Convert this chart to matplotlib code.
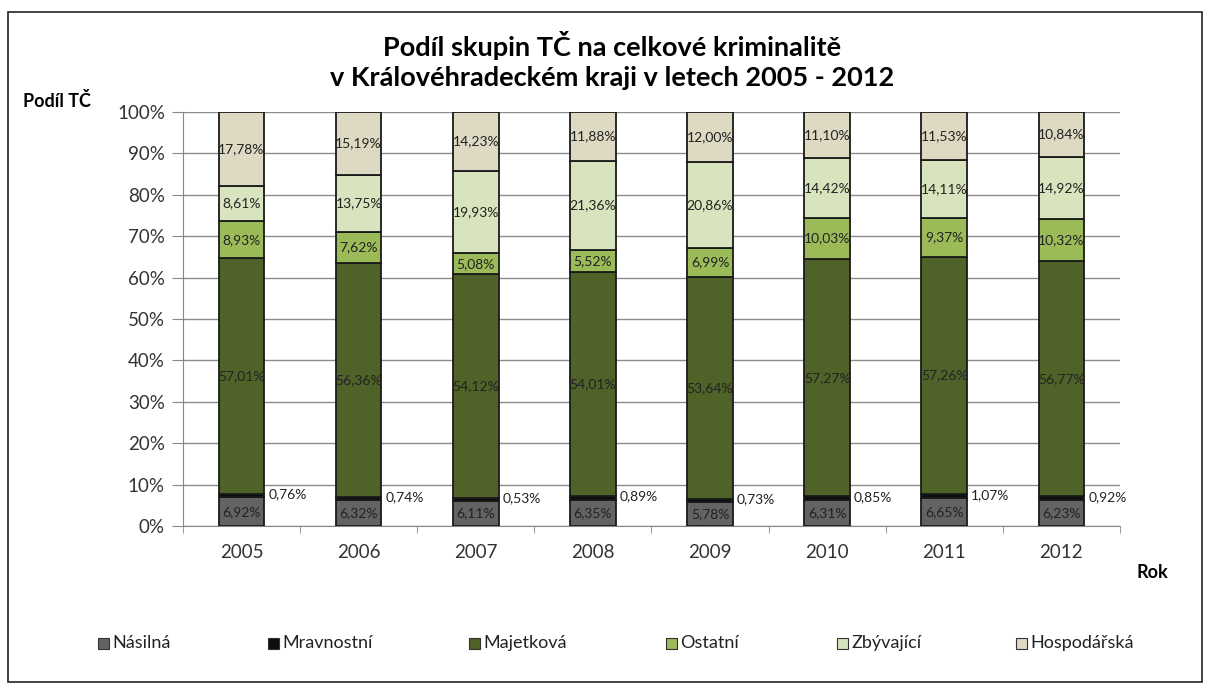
import numpy as np
import matplotlib
matplotlib.use('Agg')
import matplotlib.pyplot as plt
from matplotlib.patches import Rectangle

plt.rcParams['font.family'] = ['Lato', 'DejaVu Sans']

years = ['2005', '2006', '2007', '2008', '2009', '2010', '2011', '2012']
groups = ['Násilná', 'Mravnostní', 'Majetková', 'Ostatní', 'Zbývající', 'Hospodářská']
nasilna     = [6.92, 6.32, 6.11, 6.35, 5.78, 6.31, 6.65, 6.23]
mravnostni  = [0.76, 0.74, 0.53, 0.89, 0.73, 0.85, 1.07, 0.92]
majetkova   = [57.01, 56.36, 54.12, 54.01, 53.64, 57.27, 57.26, 56.77]
ostatni     = [8.93, 7.62, 5.08, 5.52, 6.99, 10.03, 9.37, 10.32]
zbyvajici   = [8.61, 13.75, 19.93, 21.36, 20.86, 14.42, 14.11, 14.92]
hospodarska = [17.78, 15.19, 14.23, 11.88, 12.00, 11.10, 11.53, 10.84]

series = [nasilna, mravnostni, majetkova, ostatni, zbyvajici, hospodarska]
colors = ['#636363', '#0d0d0d', '#4f6228', '#9bbb59', '#d7e4bd', '#ddd9c3']

fig = plt.figure(figsize=(12.1, 6.92), dpi=100)
ax = fig.add_axes([0.1512, 0.2399, 0.7744, 0.5983])

x = np.arange(len(years))
w = 0.39
bottom = np.zeros(len(years))
for i, (vals, col) in enumerate(zip(series, colors)):
    vals = np.array(vals)
    ax.bar(x, vals, w, bottom=bottom, color=col, edgecolor='#1a1a1a',
           linewidth=1.3, zorder=3)
    for xi, b, v in zip(x, bottom, vals):
        txt = f'{v:.2f}%'.replace('.', ',')
        if i == 1:
            ax.text(xi + w / 2 + 0.035, b + v / 2 + 0.3, txt, ha='left',
                    va='center', fontsize=10, color='#222222', zorder=4)
        else:
            ax.text(xi, b + v / 2, txt, ha='center', va='center',
                    fontsize=10, color='#222222', zorder=4)
    bottom += vals

ax.set_xlim(-0.5, len(years) - 0.5)
ax.set_ylim(0, 100)
ax.set_yticks(np.arange(0, 101, 10))
ax.set_yticklabels([f'{v}%' for v in range(0, 101, 10)])
ax.set_xticks(x)
ax.set_xticklabels(years)
ax.set_xticks(np.arange(-0.5, len(years), 1), minor=True)
ax.tick_params(axis='x', which='major', length=0, pad=13, labelsize=13.5,
               labelcolor='#333333')
ax.tick_params(axis='x', which='minor', length=5, color='#888888')
ax.tick_params(axis='y', length=8, color='#888888', labelsize=13.5,
               labelcolor='#333333', pad=5)
ax.grid(axis='y', color='#8c8c8c', linewidth=1, zorder=0)
for s in ['top', 'right']:
    ax.spines[s].set_visible(False)
ax.spines['left'].set_color('#888888')
ax.spines['bottom'].set_color('#888888')

fig.text(0.506, 1 - 45 / 692, 'Podíl skupin TČ na celkové kriminalitě',
         ha='center', va='center', fontsize=19.5, fontweight='bold')
fig.text(0.506, 1 - 78 / 692, 'v Královéhradeckém kraji v letech 2005 - 2012',
         ha='center', va='center', fontsize=19.5, fontweight='bold')
fig.text(23 / 1210, 1 - 101 / 692, 'Podíl TČ', ha='left', va='center',
         fontsize=13, fontweight='bold')
fig.text(1136 / 1210, 1 - 572 / 692, 'Rok', ha='left', va='center',
         fontsize=13, fontweight='bold')

# legend, hand placed like the original
leg_x = [98, 268, 469, 666, 837, 1016]
leg_y = 1 - 643 / 692
for lx, name, col in zip(leg_x, groups, colors):
    fig.patches.append(Rectangle((lx / 1210, leg_y - 6 / 692), 11 / 1210, 11 / 692,
                                 transform=fig.transFigure, facecolor=col,
                                 edgecolor='#333333', linewidth=0.8))
    fig.text((lx + 14) / 1210, leg_y, name, ha='left', va='center',
             fontsize=13, color='#222222')

fig.patches.append(Rectangle((8 / 1210, 1 - 682 / 692), 1194 / 1210, 670 / 692,
                             transform=fig.transFigure, fill=False,
                             edgecolor='#222222', linewidth=1.2))

fig.savefig('out.png', dpi=100)
